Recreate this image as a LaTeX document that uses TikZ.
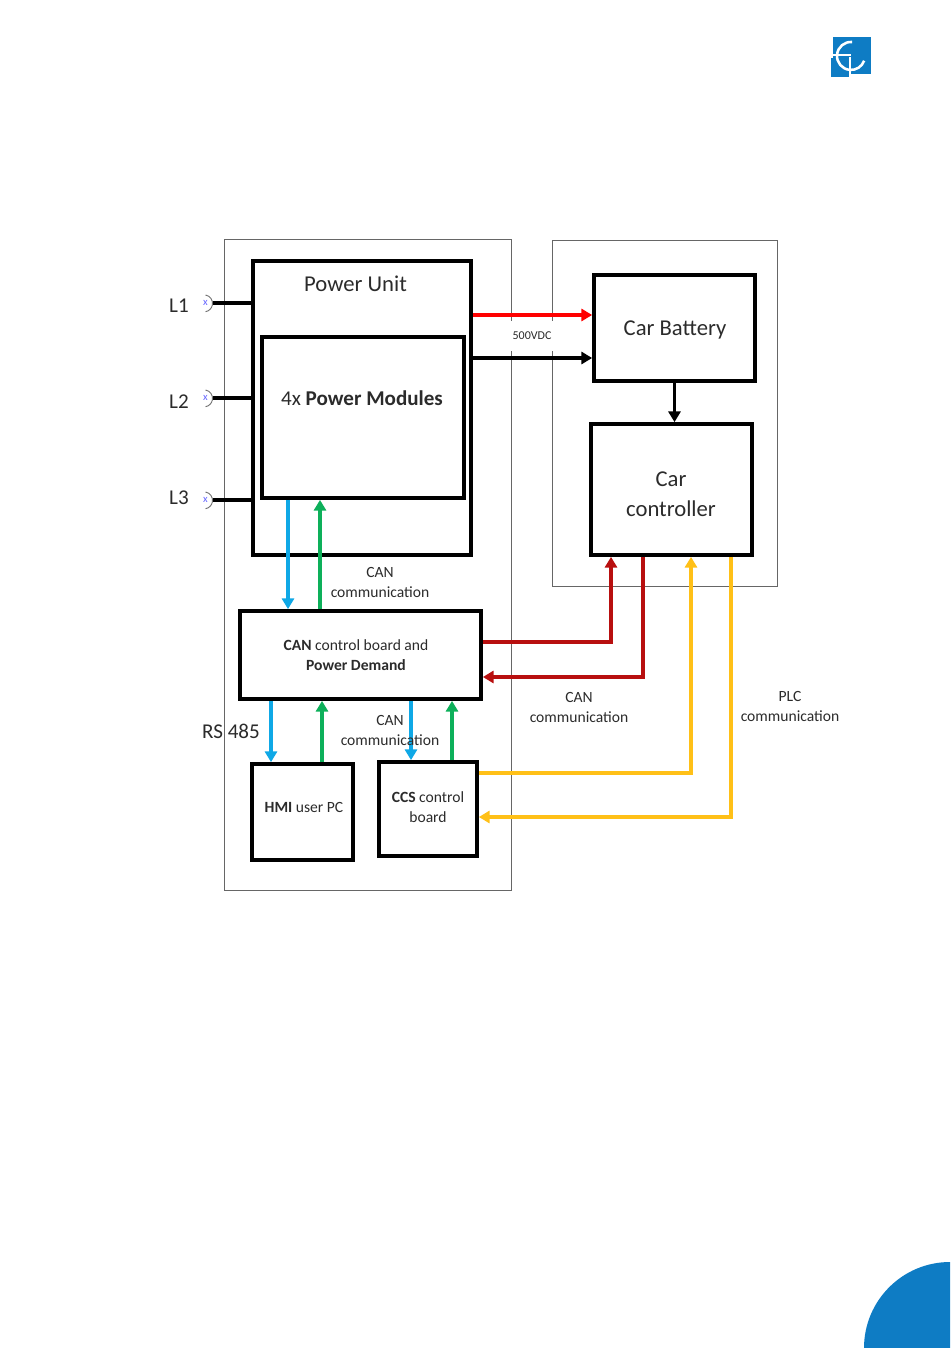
\documentclass[tikz,border=0pt]{standalone}
\usepackage{fontspec}
\setmainfont{Carlito}
\usetikzlibrary{arrows.meta}
\definecolor{logoblue}{HTML}{0E7CC4}
\definecolor{canblue}{HTML}{0FA8E6}
\definecolor{cangreen}{HTML}{0DB05A}
\definecolor{candark}{HTML}{B80F0F}
\definecolor{plcyellow}{HTML}{FFC017}
\definecolor{txtgrey}{HTML}{2B2B2B}
\tikzset{
  thinbox/.style={draw=black!60, line width=.6pt, inner sep=0pt},
  mainbox/.style={draw=black, line width=2.8pt, inner sep=0pt},
  lbl/.style={inner sep=0pt, align=center, text=txtgrey, font=\fontsize{11.7}{15}\selectfont},
  biglbl/.style={inner sep=0pt, align=center, text=txtgrey, font=\fontsize{17}{22.5}\selectfont},
  midlbl/.style={inner sep=0pt, align=center, text=txtgrey, font=\fontsize{15.8}{18}\selectfont},
  term/.style={inner sep=0pt, text=blue!60, font=\fontsize{8}{8}\selectfont},
  socket/.style={black!55, line width=.7pt},
  arr/.style={line width=2.6pt, -{Triangle[length=8pt,width=9pt]}},
  feed/.style={black, line width=3.2pt}
}
\begin{document}
\begin{tikzpicture}[x=.75pt,y=-.75pt]
\useasboundingbox (0,0) rectangle (950,1348);

% page furniture
\fill [logoblue] (950,1262) arc (-90:-180:86) -- (950,1348) -- cycle;
\fill [logoblue] (833,37) rectangle (871,74);
\fill [logoblue] (831,58) rectangle (850,77);
\draw [white, line width=1.9pt] (852.2,42) arc (-85:-340:14);
\draw [white, line width=1.9pt] (831,55) -- (851,55);
\draw [white, line width=1.9pt] (850,57) -- (850,77);

% outer frames
\node [thinbox, minimum width=215.25pt, minimum height=488.25pt] (charger) at (367.5,564.5) {};
\node [thinbox, minimum width=168.75pt, minimum height=259.5pt] (car) at (664.5,413) {};
\node [fill=white, inner sep=0pt, minimum width=33pt, minimum height=22pt, font=\fontsize{9}{9}\selectfont, text=txtgrey] (vdc) at (532,336) {500VDC};

% blocks
\node [mainbox, minimum width=163.5pt, minimum height=220.5pt] (PU) at (362,408) {};
\node [biglbl] (PUtxt) at (355.5,284) {Power Unit};
\node [mainbox, minimum width=151.5pt, minimum height=120.75pt] (PM) at (363,417.5) {};
\node [midlbl] (PMtxt) at (362,398) {4x \textbf{Power Modules}};
\node [mainbox, minimum width=120.75pt, minimum height=79.5pt] (BAT) at (674.5,328) {};
\node [biglbl] (BATtxt) at (675,329.5) {Car Battery};
\node [mainbox, minimum width=120.75pt, minimum height=98.25pt] (CTRL) at (671.5,489.5) {};
\node [biglbl] (CTRLtxt) at (671,494) {Car\\controller};
\node [mainbox, minimum width=180.75pt, minimum height=66pt] (CANB) at (360.5,655) {};
\node [lbl] (CANBtxt) at (356,655) {\textbf{CAN} control board and\\\textbf{Power Demand}};
\node [mainbox, minimum width=75.75pt, minimum height=72pt] (HMI) at (302.5,812) {};
\node [lbl] (HMItxt) at (304,807) {\textbf{HMI} user PC};
\node [mainbox, minimum width=73.5pt, minimum height=70.5pt] (CCS) at (428,809) {};
\node [lbl] (CCStxt) at (428,807) {\textbf{CCS} control\\board};

% mains inputs
\node [term] (T1) at (205.5,303) {x};
\node [term] (T2) at (205.5,398) {x};
\node [term] (T3) at (205.5,500) {x};
\draw [socket] (205.5,295) arc (-80:80:8.5);
\draw [socket] (205.5,390) arc (-80:80:8.5);
\draw [socket] (205.5,492) arc (-80:80:8.5);
\draw [feed] (T1.east -| 213,0) -- (T1.east -| PU.west);
\draw [feed] (T2.east -| 213,0) -- (T2.east -| PU.west);
\draw [feed] (T3.east -| 213,0) -- (T3.east -| PU.west);
\node [midlbl] (L1) at (179,306) {L1};
\node [midlbl] (L2) at (179,402) {L2};
\node [midlbl] (L3) at (179,498) {L3};

% dc bus
\draw [arr, red, line width=3.4pt] (PU.east |- 0,315) -- (BAT.west |- 0,315);
\draw [arr, black] (PU.east |- 0,358) -- (BAT.west |- 0,358);
\draw [arr, black] (BAT.south) -- (BAT.south |- CTRL.north);

% can links inside the charger
\draw [arr, canblue] (PM.south -| 288,0) -- (CANB.north -| 288,0);
\draw [arr, cangreen] (CANB.north -| 320,0) -- (PM.south -| 320,0);
\draw [arr, canblue] (CANB.south -| 271,0) -- (HMI.north -| 271,0);
\draw [arr, cangreen] (HMI.north -| 322,0) -- (CANB.south -| 322,0);
\draw [arr, canblue] (CANB.south -| 411,0) -- (CCS.north -| 411,0);
\draw [arr, cangreen] (CCS.north -| 452,0) -- (CANB.south -| 452,0);

% links to the car
\draw [arr, candark] (CANB.east |- 0,642) -| (CTRL.south -| 611,0);
\draw [arr, candark] (CTRL.south -| 643,0) |- (CANB.east |- 0,677);
\draw [arr, plcyellow] (CCS.east |- 0,773) -| (CTRL.south -| 691,0);
\draw [arr, plcyellow] (CTRL.south -| 731,0) |- (CCS.east |- 0,817);

% labels
\node [lbl] (can1) at (380,582) {CAN\\communication};
\node [lbl] (can2) at (579,707) {CAN\\communication};
\node [lbl] (can3) at (390,730) {CAN\\communication};
\node [lbl] (plc) at (790,706) {PLC\\communication};
\node [midlbl] (rs) at (231,731) {RS 485};
\end{tikzpicture}
\end{document}
